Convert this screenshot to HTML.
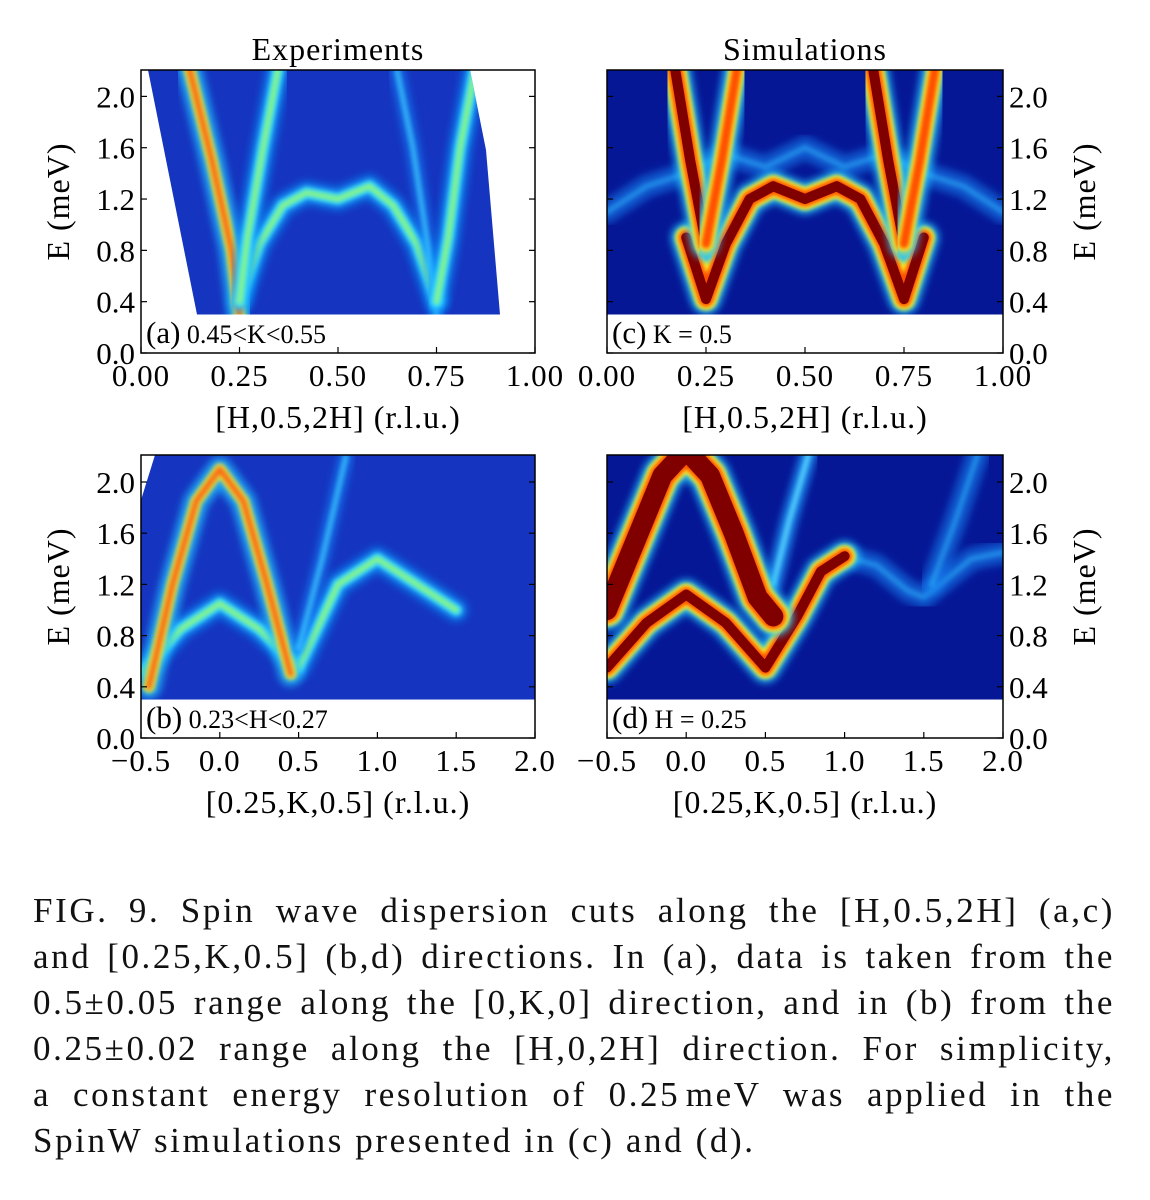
<!DOCTYPE html>
<html><head><meta charset="utf-8">
<style>
body{margin:0;background:#fff;}
#wrap{position:relative;width:1150px;height:1200px;overflow:hidden;font-family:"Liberation Serif",serif;}
#cap{position:absolute;left:33px;top:888px;width:1082px;font-size:35px;line-height:46px;color:#111;letter-spacing:2.6px;}
#cap div{text-align:justify;text-align-last:justify;white-space:nowrap;}
#cap div.last{text-align-last:left;}
</style></head><body>
<div id="wrap">
<svg id="fig" width="1150" height="880" style="position:absolute;left:0;top:0">
<defs>
<filter id="b1" x="-20%" y="-20%" width="140%" height="140%"><feGaussianBlur stdDeviation="4"/></filter>
<filter id="b2" x="-20%" y="-20%" width="140%" height="140%"><feGaussianBlur stdDeviation="2"/></filter>
</defs>
</svg>
<div id="cap">
<div>FIG. 9. Spin wave dispersion cuts along the [H,0.5,2H] (a,c)</div>
<div>and [0.25,K,0.5] (b,d) directions. In (a), data is taken from the</div>
<div>0.5±0.05 range along the [0,K,0] direction, and in (b) from the</div>
<div>0.25±0.02 range along the [H,0,2H] direction. For simplicity,</div>
<div>a constant energy resolution of 0.25&#8202;meV was applied in the</div>
<div class="last">SpinW simulations presented in (c) and (d).</div>
</div>
</div>
<script>
// ---- data ----
const hTicks = [0.00, 0.25, 0.50, 0.75, 1.00];
const kTicks = [-0.5, 0.0, 0.5, 1.0, 1.5, 2.0];
const eTicks = [0.0, 0.4, 0.8, 1.2, 1.6, 2.0];
// panel a (experiment) branches [H,E]
const expA_vLeft1 = [[0.12,2.25],[0.18,1.5],[0.23,0.8],[0.25,0.3]];
const expA_vRight1 = [[0.25,0.4],[0.27,0.9],[0.31,1.6],[0.35,2.25]];
const expA_vLeft2 = [[0.65,2.2],[0.69,1.6],[0.73,0.8],[0.75,0.3]];
const expA_vRight2 = [[0.75,0.4],[0.78,0.9],[0.81,1.6],[0.85,2.25]];
const expA_band = [[0.25,0.4],[0.30,0.85],[0.36,1.15],[0.42,1.25],[0.5,1.2],[0.58,1.3],[0.64,1.15],[0.70,0.85],[0.75,0.4]];
// panel c (simulation)
const simC_vLeft1 = [[0.17,2.25],[0.21,1.5],[0.25,0.85]];
const simC_vRight1 = [[0.25,0.85],[0.29,1.5],[0.33,2.25]];
const simC_vLeft2 = [[0.67,2.25],[0.71,1.5],[0.75,0.85]];
const simC_vRight2 = [[0.75,0.85],[0.79,1.5],[0.83,2.25]];
const simC_band = [[0.20,0.9],[0.25,0.42],[0.30,0.85],[0.36,1.2],[0.42,1.3],[0.5,1.2],[0.58,1.3],[0.64,1.2],[0.70,0.85],[0.75,0.42],[0.80,0.9]];
const simC_faint = [[0.0,1.1],[0.1,1.3],[0.2,1.4],[0.3,1.55],[0.4,1.45],[0.5,1.6],[0.6,1.45],[0.7,1.55],[0.8,1.4],[0.9,1.3],[1.0,1.1]];
// panel b (experiment)
const expB_arc = [[-0.45,0.4],[-0.3,1.2],[-0.15,1.85],[0.0,2.1],[0.15,1.85],[0.3,1.2],[0.45,0.5]];
const expB_low = [[-0.5,0.5],[-0.25,0.85],[0.0,1.05],[0.25,0.85],[0.5,0.55],[0.75,1.2],[1.0,1.4],[1.25,1.2],[1.5,1.0]];
const expB_up = [[0.5,0.7],[0.65,1.4],[0.8,2.2]];
// panel d (simulation)
const simD_arc = [[-0.5,1.0],[-0.3,1.6],[-0.15,2.05],[0.0,2.25],[0.15,2.05],[0.3,1.6],[0.45,1.1],[0.55,0.95]];
const simD_low = [[-0.5,0.55],[-0.25,0.9],[0.0,1.12],[0.25,0.9],[0.5,0.55],[0.7,0.95],[0.85,1.3],[1.0,1.42]];
const simD_tail = [[1.0,1.42],[1.2,1.35],[1.4,1.15],[1.5,1.1],[1.6,1.2],[1.8,1.4],[2.0,1.45]];
const simD_up = [[0.55,1.2],[0.65,1.7],[0.78,2.25]];
const simD_up2 = [[1.55,1.2],[1.7,1.7],[1.85,2.25]];

const NS='http://www.w3.org/2000/svg';
const svg=document.getElementById('fig');
function mk(tag,attrs,parent){const e=document.createElementNS(NS,tag);for(const k in attrs)e.setAttribute(k,attrs[k]);(parent||svg).appendChild(e);return e;}

function panel(cfg){
  const g=mk('g',{});
  
  
  const sx=v=>cfg.x0+(v-cfg.xmin)/(cfg.xmax-cfg.xmin)*(cfg.x1-cfg.x0);
  const sy=e=>cfg.yb-e*cfg.ey;
  const top=cfg.yt, bot=sy(0.3);
  const cid='clip'+cfg.id;
  const cp=mk('clipPath',{id:cid},g);
  mk('polygon',{points:cfg.region(sx,sy,top,bot)},cp);
  const heat=mk('g',{'clip-path':'url(#'+cid+')'},g);
  
  
  mk('rect',{x:cfg.x0,y:top,width:cfg.x1-cfg.x0,height:bot-top,fill:cfg.bg},heat);
  cfg.series.forEach(s=>{
    const pts=s.d.map(p=>sx(p[0]).toFixed(1)+','+sy(p[1]).toFixed(1)).join(' ');
    s.layers.forEach(l=>{
      const pl=mk('polyline',{points:pts,fill:'none',stroke:l[0],'stroke-width':l[1],'stroke-linejoin':'round','stroke-linecap':'round',opacity:l[2]||1,filter:l[3]?'url(#'+l[3]+')':''},heat);
      
      
    });
  });
  const fr=mk('rect',{x:cfg.x0,y:top,width:cfg.x1-cfg.x0,height:cfg.yb-top,fill:'none',stroke:'#000','stroke-width':1.5},g);
  
  
  cfg.xt.forEach(v=>{
    const x=sx(v);
    mk('line',{x1:x,x2:x,y1:cfg.yb,y2:cfg.yb-6,stroke:'#000','stroke-width':1.2},g);
    const t=mk('text',{x:x,y:cfg.yb+33,'font-size':31,'text-anchor':'middle','font-family':'Liberation Serif, serif','letter-spacing':'1'},g);
    t.textContent=cfg.xfmt(v);
    
    
  });
  eTicks.forEach(v=>{
    const y=sy(v);
    mk('line',{x1:cfg.x0,x2:cfg.x0+6,y1:y,y2:y,stroke:'#000','stroke-width':1.2},g);
    mk('line',{x1:cfg.x1,x2:cfg.x1-6,y1:y,y2:y,stroke:'#000','stroke-width':1.2},g);
    const right=cfg.yside==='right';
    const t=mk('text',{x:right?cfg.x1+6:cfg.x0-6,y:y+11,'font-size':31,'text-anchor':right?'start':'end','font-family':'Liberation Serif, serif'},g);
    t.textContent=v.toFixed(1);
    
    
  });
  const xl=mk('text',{x:(cfg.x0+cfg.x1)/2,y:cfg.yb+75,'font-size':32,'text-anchor':'middle','font-family':'Liberation Serif, serif','letter-spacing':'1'},g);
  xl.textContent=cfg.xlabel;
  
  
  const yx=cfg.yside==='right'?cfg.x1+92:cfg.x0-72, yy=(top+cfg.yb)/2-10;
  const yl=mk('text',{x:yx,y:yy,'font-size':32,'text-anchor':'middle','font-family':'Liberation Serif, serif','letter-spacing':'1',transform:'rotate(-90 '+yx+' '+yy+')'},g);
  yl.textContent='E (meV)';
  
  
  const pt=mk('text',{x:cfg.x0+5,y:cfg.yb-10,'font-family':'Liberation Serif, serif'},g);
  const s1=mk('tspan',{'font-size':31},pt); s1.textContent=cfg.tag;
  const s2=mk('tspan',{'font-size':26},pt); s2.textContent=' '+cfg.tagText;
  
  
  if(cfg.title){const tt=mk('text',{x:(cfg.x0+cfg.x1)/2,y:top-10,'font-size':32,'text-anchor':'middle','font-family':'Liberation Serif, serif','letter-spacing':'1'},g);tt.textContent=cfg.title;
    
    }
}
const expL=[['#10a0ff',22,0.7,'b1'],['#40e0ff',12,0.9,'b2'],['#a0ff60',5,0.8,'b2']];
const expStrong=[['#20c0ff',24,0.8,'b1'],['#f0f030',12,0.9,'b2'],['#ff6010',6,0.9,'b2']];
const simStrong=[['#20c8ff',30,0.9,'b1'],['#ffff20',22,1,'b2'],['#ff5000',16,1,'b2'],['#800000',10,1]];
const simMid=[['#20c0ff',26,0.9,'b1'],['#ffff20',16,1,'b2'],['#ff5000',10,1,'b2']];
const simFaint=[['#1880f0',22,0.6,'b1'],['#30b8ff',6,0.5,'b2']];
const hfmt=v=>v.toFixed(2), kfmt=v=>(v<0?'\u2212':'')+Math.abs(v).toFixed(1);

panel({id:'a',name:'panel-a-experiment-h',x0:141,x1:535,xmin:0,xmax:1,yt:70,yb:353,ey:128.3,bg:'#1535c0',xt:hTicks,xfmt:hfmt,yside:'left',
  xlabel:'[H,0.5,2H] (r.l.u.)',tag:'(a)',tagText:'0.45<K<0.55',title:'Experiments',
  region:(sx,sy,t,b)=>`148,${t} 470,${t} 486,150 500,${b} 197,${b}`,
  series:[{n:'band',d:expA_band,layers:expL},{n:'v-branch',d:expA_vLeft1,layers:expStrong},{n:'v-branch',d:expA_vRight1,layers:expL},
          {n:'v-branch',d:expA_vLeft2,layers:[['#1890ff',14,0.6,'b1'],['#40d0ff',5,0.7,'b2']]},{n:'v-branch',d:expA_vRight2,layers:expL}]});
panel({id:'c',name:'panel-c-simulation-h',x0:607,x1:1003,xmin:0,xmax:1,yt:70,yb:353,ey:128.3,bg:'#061796',xt:hTicks,xfmt:hfmt,yside:'right',
  xlabel:'[H,0.5,2H] (r.l.u.)',tag:'(c)',tagText:'K = 0.5',title:'Simulations',
  region:(sx,sy,t,b)=>`607,${t} 1003,${t} 1003,${b} 607,${b}`,
  series:[{n:'faint-band',d:simC_faint,layers:simFaint},{n:'band',d:simC_band,layers:simStrong},
          {n:'v-branch',d:simC_vLeft1,layers:simStrong},{n:'v-branch',d:simC_vRight1,layers:simMid},
          {n:'v-branch',d:simC_vLeft2,layers:simStrong},{n:'v-branch',d:simC_vRight2,layers:simMid}]});
panel({id:'b',name:'panel-b-experiment-k',x0:141,x1:535,xmin:-0.5,xmax:2,yt:455,yb:738,ey:128,bg:'#1535c0',xt:kTicks,xfmt:kfmt,yside:'left',
  xlabel:'[0.25,K,0.5] (r.l.u.)',tag:'(b)',tagText:'0.23<H<0.27',
  region:(sx,sy,t,b)=>`155,${t} 535,${t} 535,${b} 141,${b} 141,500`,
  series:[{n:'lower-band',d:expB_low,layers:expL},{n:'upper-arc',d:expB_arc,layers:expStrong},{n:'branch',d:expB_up,layers:[['#1890ff',14,0.6,'b1'],['#40d0ff',5,0.7,'b2']]}]});
panel({id:'d',name:'panel-d-simulation-k',x0:607,x1:1003,xmin:-0.5,xmax:2,yt:455,yb:738,ey:128,bg:'#061796',xt:kTicks,xfmt:kfmt,yside:'right',
  xlabel:'[0.25,K,0.5] (r.l.u.)',tag:'(d)',tagText:'H = 0.25',
  region:(sx,sy,t,b)=>`607,${t} 1003,${t} 1003,${b} 607,${b}`,
  series:[{n:'tail',d:simD_tail,layers:simFaint},{n:'branch',d:simD_up2,layers:simFaint},{n:'branch',d:simD_up,layers:[['#20a0ff',16,0.8,'b1'],['#60e0ff',5,0.8,'b2']]},
          {n:'lower-band',d:simD_low,layers:simStrong},{n:'upper-arc',d:simD_arc,layers:[['#20c8ff',40,0.9,'b1'],['#ffff20',32,1,'b2'],['#ff5000',26,1,'b2'],['#800000',20,1]]}]});
</script>
</body></html>
